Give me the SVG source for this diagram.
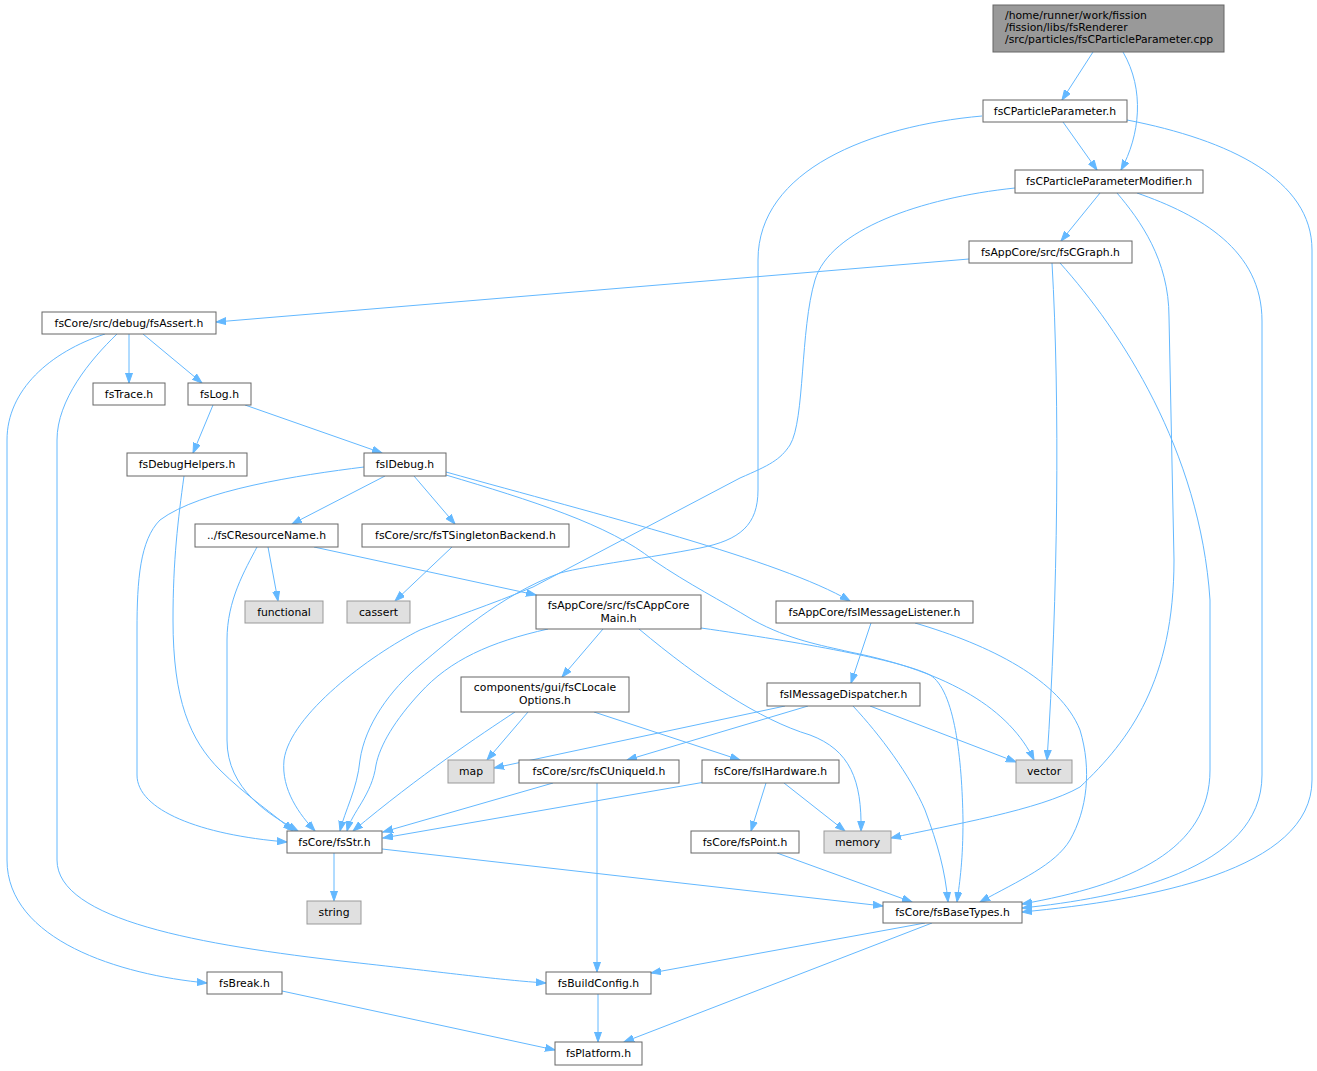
<svg xmlns="http://www.w3.org/2000/svg" width="1317" height="1071" viewBox="0 0 1317 1071">
<style>
.n rect{fill:#ffffff;stroke:#666666;stroke-width:1}
.r rect{fill:#999999;stroke:#666666;stroke-width:1}
.x rect{fill:#e0e0e0;stroke:#999999;stroke-width:1}
text{font-family:"DejaVu Sans","Liberation Sans",sans-serif;font-size:10.8px;fill:#000000;text-anchor:middle}
.e path{fill:none;stroke:#63b8ff;stroke-width:1;marker-end:url(#a)}
</style>
<defs>
<marker id="a" markerWidth="11" markerHeight="8" refX="10" refY="4" orient="auto" markerUnits="userSpaceOnUse"><path d="M0,0.5 L10,4 L0,7.5 z" fill="#63b8ff" stroke="#63b8ff" stroke-width="1"/></marker>
</defs>
<rect width="1317" height="1071" fill="#ffffff"/>
<g id="edges" class="e">
<path d="M1093,52 L1062,100"/>
<path d="M1123,52 C1145,90 1140,135 1121,170"/>
<path d="M1063,122 L1097,170"/>
<path d="M982,116 C870,126 758,170 758,260 L758,490 C758,525 740,540 700,548 C650,558 590,565 560,573 C500,595 450,640 420,665 C390,690 365,725 360,760 C357,790 345,810 340,831"/>
<path d="M1127,120 C1230,140 1312,180 1312,250 L1312,780 C1312,870 1150,900 1022,912"/>
<path d="M1100,193 L1061,241"/>
<path d="M1015,188 C920,198 830,230 815,280 C800,330 805,420 790,445 C780,460 770,465 740,478 L533,587 C490,605 450,618 420,630 C370,655 290,715 284,760 C281,790 300,815 315,831"/>
<path d="M1117,193 C1140,220 1169,260 1169,317 L1174,560 C1174,680 1130,740 1080,787 C1040,810 950,825 891,838"/>
<path d="M1137,193 C1200,215 1262,250 1262,321 L1262,775 C1262,870 1120,898 1022,908"/>
<path d="M969,259 L216,322"/>
<path d="M1052,263 C1060,400 1058,600 1047,760"/>
<path d="M1060,263 C1120,330 1200,450 1210,600 L1210,770 C1210,850 1130,885 1022,904"/>
<path d="M129,334 L129,383"/>
<path d="M143,334 L202,383"/>
<path d="M105,334 C50,352 7,390 7,440 L7,860 C7,940 120,975 207,983"/>
<path d="M117,334 C90,360 57,400 57,440 L57,860 C57,920 200,945 350,962 C450,973 500,980 546,983"/>
<path d="M213,405 L193,453"/>
<path d="M245,405 L382,453"/>
<path d="M184,476 C178,520 173,560 173,620 C173,700 190,740 220,770 C245,795 275,815 293,831"/>
<path d="M364,467 C300,475 200,490 160,520 C140,540 137,580 137,630 L137,775 C137,810 200,835 287,842"/>
<path d="M385,476 L292,524"/>
<path d="M414,476 L455,524"/>
<path d="M446,475 C530,500 610,525 653,560 C690,585 720,600 753,620 C790,640 820,645 850,652 C950,672 1010,710 1034,760"/>
<path d="M446,472 C600,515 780,560 850,601"/>
<path d="M268,547 L278,601"/>
<path d="M257,547 C245,570 227,600 227,640 L227,740 C227,790 270,815 298,831"/>
<path d="M314,547 L536,595"/>
<path d="M452,547 L395,601"/>
<path d="M603,629 L562,677"/>
<path d="M548,629 C490,642 450,660 420,693 C395,720 380,745 376,765 C372,795 352,812 347,831"/>
<path d="M639,629 C700,680 760,720 810,735 C850,750 862,780 861,831"/>
<path d="M701,628 C800,642 900,660 930,675 C955,690 962,760 963,820 C963,860 960,880 957,902"/>
<path d="M528,712 L487,760"/>
<path d="M515,712 C480,735 420,775 353,831"/>
<path d="M594,712 L740,760"/>
<path d="M871,623 L851,683"/>
<path d="M915,623 C990,645 1060,680 1080,730 C1092,770 1087,810 1070,840 C1055,865 1020,880 980,902"/>
<path d="M785,706 L494,768"/>
<path d="M808,706 L627,760"/>
<path d="M870,706 L1016,762"/>
<path d="M853,706 C880,735 910,775 925,810 C938,845 945,870 948,902"/>
<path d="M553,783 L383,832"/>
<path d="M597,783 L597,972"/>
<path d="M705,782 L383,838"/>
<path d="M766,783 L751,831"/>
<path d="M784,783 L845,831"/>
<path d="M777,853 L912,902"/>
<path d="M334,853 L334,901"/>
<path d="M382,849 L883,906"/>
<path d="M925,923 L651,973"/>
<path d="M932,923 L624,1042"/>
<path d="M598,994 L598,1042"/>
<path d="M282,991 L555,1050"/>
</g>
<g id="n_root" class="r"><rect x="993" y="5" width="231" height="47"/><text x="1005" y="19" style="text-anchor:start">/home/runner/work/fission</text><text x="1005" y="31" style="text-anchor:start">/fission/libs/fsRenderer</text><text x="1005" y="43" style="text-anchor:start">/src/particles/fsCParticleParameter.cpp</text></g>
<g id="n_particle" class="n"><rect x="983" y="100" width="144" height="22"/><text x="1055" y="115">fsCParticleParameter.h</text></g>
<g id="n_modifier" class="n"><rect x="1015" y="170" width="188" height="23"/><text x="1109" y="185">fsCParticleParameterModifier.h</text></g>
<g id="n_cgraph" class="n"><rect x="969" y="241" width="163" height="22"/><text x="1050.5" y="256">fsAppCore/src/fsCGraph.h</text></g>
<g id="n_assert" class="n"><rect x="42" y="312" width="174" height="22"/><text x="129" y="327">fsCore/src/debug/fsAssert.h</text></g>
<g id="n_trace" class="n"><rect x="93" y="383" width="72" height="22"/><text x="129" y="398">fsTrace.h</text></g>
<g id="n_log" class="n"><rect x="188" y="383" width="63" height="22"/><text x="219.5" y="398">fsLog.h</text></g>
<g id="n_debughelpers" class="n"><rect x="127" y="453" width="120" height="23"/><text x="187" y="468">fsDebugHelpers.h</text></g>
<g id="n_idebug" class="n"><rect x="364" y="453" width="82" height="23"/><text x="405" y="468">fsIDebug.h</text></g>
<g id="n_resname" class="n"><rect x="195" y="524" width="143" height="23"/><text x="266.5" y="539">../fsCResourceName.h</text></g>
<g id="n_singleton" class="n"><rect x="362" y="524" width="207" height="23"/><text x="465.5" y="539">fsCore/src/fsTSingletonBackend.h</text></g>
<g id="n_functional" class="x"><rect x="245" y="601" width="78" height="22"/><text x="284" y="616">functional</text></g>
<g id="n_cassert" class="x"><rect x="347" y="601" width="63" height="22"/><text x="378.5" y="616">cassert</text></g>
<g id="n_appcoremain" class="n"><rect x="536" y="595" width="165" height="34"/><text x="618.5" y="609">fsAppCore/src/fsCAppCore</text><text x="618.5" y="622">Main.h</text></g>
<g id="n_locale" class="n"><rect x="461" y="677" width="168" height="35"/><text x="545" y="691">components/gui/fsCLocale</text><text x="545" y="704">Options.h</text></g>
<g id="n_listener" class="n"><rect x="776" y="601" width="197" height="22"/><text x="874.5" y="616">fsAppCore/fsIMessageListener.h</text></g>
<g id="n_dispatcher" class="n"><rect x="767" y="683" width="153" height="23"/><text x="843.5" y="698">fsIMessageDispatcher.h</text></g>
<g id="n_vector" class="x"><rect x="1016" y="760" width="56" height="23"/><text x="1044" y="775">vector</text></g>
<g id="n_hardware" class="n"><rect x="702" y="760" width="137" height="23"/><text x="770.5" y="775">fsCore/fsIHardware.h</text></g>
<g id="n_point" class="n"><rect x="691" y="831" width="108" height="22"/><text x="745" y="846">fsCore/fsPoint.h</text></g>
<g id="n_memory" class="x"><rect x="824" y="831" width="67" height="22"/><text x="857.5" y="846">memory</text></g>
<g id="n_map" class="x"><rect x="448" y="760" width="46" height="23"/><text x="471" y="775">map</text></g>
<g id="n_uniqueid" class="n"><rect x="519" y="760" width="160" height="23"/><text x="599" y="775">fsCore/src/fsCUniqueId.h</text></g>
<g id="n_str" class="n"><rect x="287" y="831" width="95" height="22"/><text x="334.5" y="846">fsCore/fsStr.h</text></g>
<g id="n_string" class="x"><rect x="307" y="901" width="54" height="23"/><text x="334" y="916">string</text></g>
<g id="n_basetypes" class="n"><rect x="883" y="902" width="139" height="21"/><text x="952.5" y="916">fsCore/fsBaseTypes.h</text></g>
<g id="n_buildconfig" class="n"><rect x="546" y="972" width="105" height="22"/><text x="598.5" y="987">fsBuildConfig.h</text></g>
<g id="n_break" class="n"><rect x="207" y="972" width="75" height="22"/><text x="244.5" y="987">fsBreak.h</text></g>
<g id="n_platform" class="n"><rect x="555" y="1042" width="87" height="23"/><text x="598.5" y="1057">fsPlatform.h</text></g>
</svg>
